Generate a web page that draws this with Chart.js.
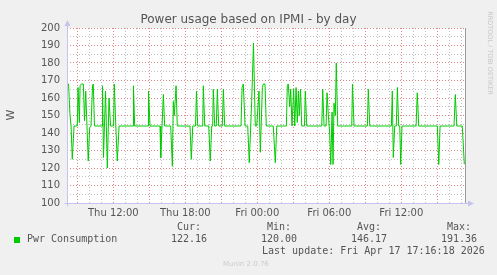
<!DOCTYPE html>
<html>
<head>
<meta charset="utf-8">
<script src="https://cdn.jsdelivr.net/npm/chart.js@4"></script>
<style>
  html, body { margin: 0; padding: 0; background: #f0f0f0; }
  #wrap { position: relative; width: 497px; height: 275px; overflow: hidden; }
  #chart { position: absolute; left: 0; top: 0; }
  .t { position: absolute; white-space: pre; color: #555; }
  .mono { font: 10px "DejaVu Sans Mono", monospace; line-height: 12px; }
</style>
</head>
<body>
<div id="wrap">
  <canvas id="chart" width="497" height="275"></canvas>
  <div class="t" id="title" style="left:0;width:497px;text-align:center;top:12px;font:12px 'DejaVu Sans';line-height:14px;">Power usage based on IPMI - by day</div>
  <div class="t" style="left:4px;top:108px;font:11px 'DejaVu Sans';line-height:14px;width:14px;text-align:center;transform:rotate(-90deg);">W</div>
  <div class="t" style="left:440px;top:49px;font:6.5px 'DejaVu Sans';line-height:8px;width:100px;text-align:center;color:#c8c8c8;transform:rotate(90deg);">RRDTOOL / TOBI OETIKER</div>

  <div class="t mono" style="left:177px;top:221px;">Cur:</div>
  <div class="t mono" style="left:267px;top:221px;">Min:</div>
  <div class="t mono" style="left:357px;top:221px;">Avg:</div>
  <div class="t mono" style="left:447px;top:221px;">Max:</div>

  <div style="position:absolute;left:14px;top:237px;width:6px;height:6px;background:#00cc00;"></div>
  <div class="t mono" style="left:27px;top:233px;">Pwr Consumption</div>
  <div class="t mono" style="left:171px;top:233px;">122.16</div>
  <div class="t mono" style="left:261px;top:233px;">120.00</div>
  <div class="t mono" style="left:351px;top:233px;">146.17</div>
  <div class="t mono" style="left:441px;top:233px;">191.36</div>
  <div class="t mono" style="left:262px;top:245px;">Last update: Fri Apr 17 17:16:18 2026</div>

  <div class="t" style="left:223px;top:259px;font:7px 'DejaVu Sans';line-height:10px;color:#cccccc;">Munin 2.0.76</div>
</div>
<script>
// time in hours since Thu 00:00, power in W
const hours = [
  8.14, 8.27, 8.39, 8.48, 8.58, 8.73, 9.00, 9.06, 9.17, 9.23, 9.33, 9.50, 9.60, 9.70, 9.91,
  10.03, 10.14, 10.27, 10.33, 10.43, 11.06, 11.10, 11.18, 11.35, 11.50, 11.64, 11.77,
  12.02, 12.08, 12.20, 12.33, 12.48, 13.64, 13.68, 13.78, 14.89, 14.93, 15.06,
  15.89, 15.95, 16.17, 16.28, 16.78, 16.92, 17.00, 17.08, 17.23, 17.33,
  18.39, 18.50, 18.62, 18.85, 18.93, 19.03, 19.45, 19.50, 19.62, 19.95, 20.08, 20.20,
  20.28, 20.33, 20.45, 20.58, 20.67, 20.78, 21.08, 21.17, 21.28,
  22.64, 22.73, 22.83, 22.98, 23.20, 23.33, 23.53, 23.68, 23.83, 23.95,
  24.14, 24.25, 24.42, 24.50, 24.64, 24.75, 25.33, 25.50, 25.62,
  26.42, 26.50, 26.58, 26.70, 26.78, 26.89, 27.03, 27.12, 27.23, 27.33, 27.42, 27.50,
  27.60, 27.70, 27.93, 28.00, 28.12, 29.37, 29.45, 29.56,
  29.73, 29.81, 29.92, 30.03, 30.12, 30.23, 30.31, 30.39, 30.50, 30.58, 30.70,
  31.87, 31.93, 32.06, 33.17, 33.25, 33.37,
  35.17, 35.25, 35.33, 35.45, 35.58, 35.67, 35.78, 35.87, 35.95, 36.06,
  37.23, 37.33, 37.45, 39.00, 39.12, 39.23, 40.39, 40.50, 40.62, 41.08, 41.25
];
const watts = [
  168, 168, 150, 144, 125, 144, 144, 166, 146, 167, 168, 168, 147, 164, 124,
  143, 144, 167, 168, 144, 144, 167, 126, 164, 120, 160, 144,
  144, 168, 145, 124, 144, 144, 167, 144, 144, 164, 144,
  144, 126, 162, 144, 144, 121, 158, 150, 167, 144,
  144, 125, 144, 144, 164, 144, 144, 167, 144, 144, 124, 144,
  144, 165, 144, 144, 165, 144, 144, 165, 144,
  144, 166, 168, 144, 144, 123, 158, 191.36, 144, 144,
  164, 129, 166, 168, 168, 144, 144, 123, 144,
  144, 167, 168, 155, 165, 144, 165, 144, 166, 146, 164, 150,
  165, 144, 144, 164, 144, 144, 165, 144,
  144, 163, 150, 140, 122, 152, 122, 157, 150, 180, 144,
  144, 168, 144, 144, 165, 144,
  144, 164, 126, 144, 144, 166, 144, 144, 122, 144,
  144, 163, 144, 144, 122, 144, 144, 162, 144, 144, 122.16
];

const startHour = 8.14;
const endHour = 41.39;
const tickHours = [12, 18, 24, 30, 36];
const tickLabels = ['Thu 12:00', 'Thu 18:00', 'Fri 00:00', 'Fri 06:00', 'Fri 12:00'];
const yMin = 100;
const yMax = 200;

const majorColor = 'rgba(215, 80, 80, 0.7)';
const minorColor = 'rgba(140, 140, 140, 0.55)';
const axisColor = '#c4c4ee';

const muninFrame = {
    id: 'muninFrame',
    beforeDraw(chart) {
        const a = chart.chartArea;
        const ctx = chart.ctx;
        ctx.save();
        ctx.fillStyle = '#ffffff';
        ctx.fillRect(a.left, a.top, a.right - a.left, a.bottom - a.top);
        ctx.restore();
    },
    afterDraw(chart) {
        const a = chart.chartArea;
        const ctx = chart.ctx;
        const l = Math.round(a.left) + 0.5;
        const b = Math.round(a.bottom) + 0.5;
        ctx.save();
        ctx.strokeStyle = axisColor;
        ctx.fillStyle = axisColor;
        ctx.lineWidth = 1;
        ctx.beginPath();
        ctx.moveTo(l, b + 3);
        ctx.lineTo(l, a.top - 4);
        ctx.moveTo(l - 3, b);
        ctx.lineTo(a.right + 4, b);
        ctx.stroke();
        // arrow heads
        ctx.beginPath();
        ctx.moveTo(l, a.top - 8);
        ctx.lineTo(l - 3, a.top - 2);
        ctx.lineTo(l + 3, a.top - 2);
        ctx.closePath();
        ctx.fill();
        ctx.beginPath();
        ctx.moveTo(a.right + 8, b);
        ctx.lineTo(a.right + 2, b - 3);
        ctx.lineTo(a.right + 2, b + 3);
        ctx.closePath();
        ctx.fill();
        // right edge line
        ctx.strokeStyle = '#999999';
        ctx.beginPath();
        ctx.moveTo(Math.round(a.right) - 0.5, a.top);
        ctx.lineTo(Math.round(a.right) - 0.5, a.bottom);
        ctx.stroke();
        ctx.restore();
    }
};

const points = hours.map((h, i) => ({ x: h, y: watts[i] }));

new Chart(document.getElementById('chart'), {
    type: 'line',
    data: {
        datasets: [{
            label: 'Pwr Consumption',
            data: points,
            borderColor: '#00cc00',
            borderWidth: 1,
            pointRadius: 0,
            tension: 0,
            fill: false
        }]
    },
    options: {
        responsive: false,
        animation: false,
        devicePixelRatio: 1,
        layout: { padding: { left: 0, top: 28, right: 31, bottom: 52 } },
        plugins: { legend: { display: false }, tooltip: { enabled: false } },
        scales: {
            x: {
                type: 'linear',
                min: startHour,
                max: endHour,
                afterBuildTicks: axis => {
                    const list = [];
                    for (let h = Math.ceil(startHour); h <= endHour; h++) list.push({ value: h });
                    axis.ticks = list;
                },
                afterFit: axis => { axis.height = 20; },
                border: { display: false, dash: [1, 2] },
                grid: {
                    drawTicks: false,
                    color: c => (c.tick && c.tick.value % 3 === 0 ? majorColor : minorColor)
                },
                ticks: {
                    autoSkip: false,
                    maxRotation: 0,
                    padding: 4,
                    color: '#555555',
                    font: { family: 'DejaVu Sans', size: 10 },
                    callback: v => {
                        const i = tickHours.indexOf(v);
                        return i >= 0 ? tickLabels[i] : '';
                    }
                }
            },
            y: {
                min: yMin,
                max: yMax,
                afterFit: axis => { axis.width = 67; },
                border: { display: false, dash: [1, 2] },
                grid: {
                    drawTicks: false,
                    color: c => (c.tick && c.tick.value % 10 === 0 ? majorColor : minorColor)
                },
                ticks: {
                    stepSize: 5,
                    autoSkip: false,
                    padding: 7,
                    color: '#555555',
                    font: { family: 'DejaVu Sans', size: 10 },
                    callback: v => (v % 10 === 0 ? String(v) : '')
                }
            }
        }
    },
    plugins: [muninFrame]
});
</script>
</body>
</html>
